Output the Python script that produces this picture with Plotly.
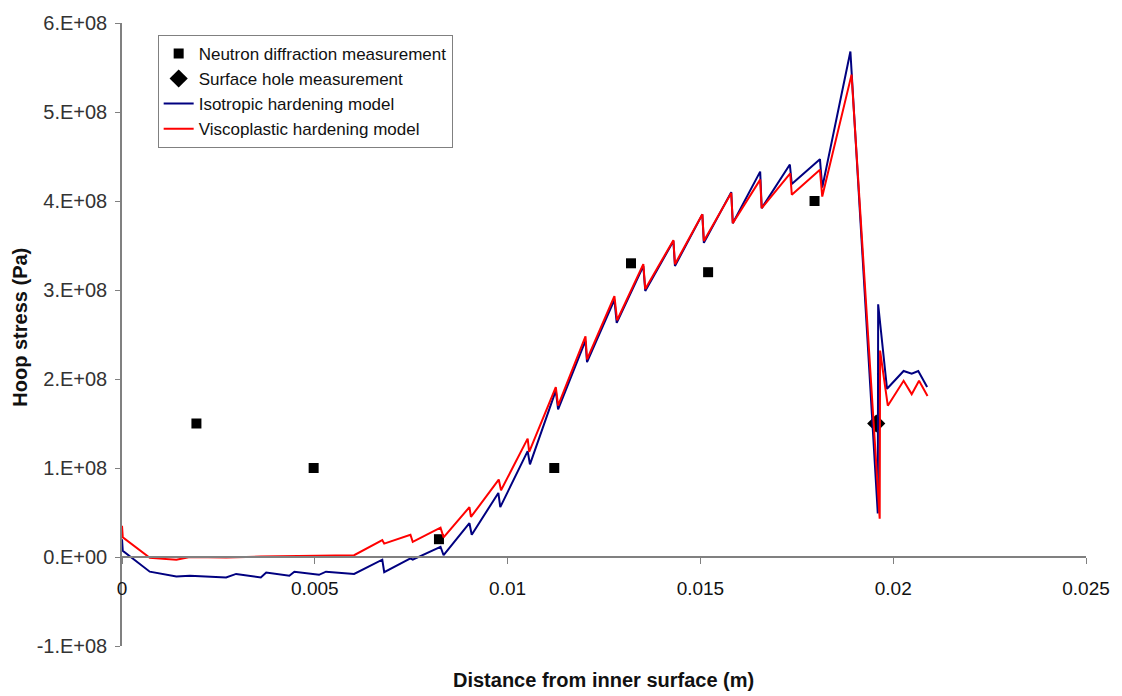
import plotly.graph_objects as go

# Neutron diffraction measurement
neutron_x = [0.00193, 0.00497, 0.00822, 0.01121, 0.0132, 0.0152, 0.01796]
neutron_y = [1.5e8, 1.0e8, 0.2e8, 1.0e8, 3.3e8, 3.2e8, 4.0e8]

# Surface hole measurement
hole_x = [0.01956]
hole_y = [1.5e8]

# Isotropic hardening model
iso_x = [0, 0.00002, 0.00072, 0.00141, 0.00176, 0.0027, 0.00296, 0.0036, 0.00374,
         0.00434, 0.00447, 0.00511, 0.00529, 0.00602, 0.00675, 0.0068, 0.00748,
         0.00754, 0.00826, 0.00834, 0.00901, 0.00907, 0.00976, 0.00981, 0.01052,
         0.01058, 0.01125, 0.01131, 0.01202, 0.01206, 0.01277, 0.01283, 0.01352,
         0.01357, 0.0143, 0.01434, 0.01505, 0.01509, 0.0158, 0.01584, 0.01655,
         0.01659, 0.01732, 0.01737, 0.0181, 0.01816, 0.01889, 0.0196, 0.01961,
         0.01984, 0.02027, 0.02048, 0.02065, 0.02088]
iso_y = [0.2, 0.07, -0.165, -0.22, -0.21, -0.23, -0.19, -0.23, -0.175, -0.21, -0.165,
         -0.2, -0.165, -0.19, -0.03, -0.17, -0.015, -0.03, 0.115, 0.02, 0.38, 0.25,
         0.72, 0.56, 1.19, 1.04, 1.87, 1.66, 2.43, 2.19, 2.89, 2.63, 3.27, 2.99,
         3.55, 3.27, 3.85, 3.53, 4.1, 3.75, 4.33, 3.92, 4.41, 4.19, 4.47, 4.15,
         5.68, 0.49, 2.84, 1.89, 2.09, 2.06, 2.09, 1.91]

# Viscoplastic hardening model
visco_x = [0, 0.00002, 0.00072, 0.00141, 0.00176, 0.0027, 0.0036, 0.00447, 0.00529,
           0.00602, 0.00675, 0.0068, 0.00748, 0.00754, 0.00826, 0.00834, 0.00901,
           0.00905, 0.00977, 0.00983, 0.01052, 0.01056, 0.01125, 0.01131, 0.01202,
           0.01206, 0.01277, 0.01284, 0.01352, 0.01357, 0.0143, 0.01434, 0.01505,
           0.01509, 0.0158, 0.01584, 0.01655, 0.01659, 0.01733, 0.01737, 0.0181,
           0.01816, 0.01892, 0.01965, 0.01966, 0.01986, 0.02027, 0.02048, 0.02067,
           0.02089]
visco_y = [0.35, 0.22, -0.01, -0.03, 0.0, -0.005, 0.005, 0.01, 0.015, 0.02, 0.19, 0.15,
           0.25, 0.17, 0.33, 0.22, 0.56, 0.45, 0.87, 0.75, 1.33, 1.18, 1.91, 1.70,
           2.48, 2.22, 2.93, 2.66, 3.29, 3.01, 3.56, 3.29, 3.85, 3.55, 4.09, 3.75,
           4.24, 3.92, 4.31, 4.07, 4.35, 4.05, 5.42, 0.43, 2.32, 1.70, 1.98, 1.83,
           1.98, 1.81]

x_ticks = [0, 0.005, 0.01, 0.015, 0.02, 0.025]
x_tick_labels = ["0", "0.005", "0.01", "0.015", "0.02", "0.025"]
y_ticks = [-1e8, 0, 1e8, 2e8, 3e8, 4e8, 5e8, 6e8]
y_tick_labels = ["-1.E+08", "0.E+00", "1.E+08", "2.E+08", "3.E+08", "4.E+08", "5.E+08", "6.E+08"]

fig = go.Figure()
fig.add_trace(go.Scatter(x=neutron_x, y=neutron_y, mode="markers",
                         name="Neutron diffraction measurement",
                         marker=dict(symbol="square", size=10, color="black")))
fig.add_trace(go.Scatter(x=hole_x, y=hole_y, mode="markers",
                         name="Surface hole measurement",
                         marker=dict(symbol="diamond", size=14, color="black")))
fig.add_trace(go.Scatter(x=iso_x, y=[v * 1e8 for v in iso_y], mode="lines",
                         name="Isotropic hardening model",
                         line=dict(color="#000080", width=2)))
fig.add_trace(go.Scatter(x=visco_x, y=[v * 1e8 for v in visco_y], mode="lines",
                         name="Viscoplastic hardening model",
                         line=dict(color="#ff0000", width=2)))

fig.update_layout(
    width=1122, height=696,
    margin=dict(l=122, r=30, t=21, b=50),
    paper_bgcolor="white", plot_bgcolor="white",
    font=dict(family="Liberation Sans, Arial", color="#222"),
    showlegend=True,
    legend=dict(x=0.037, y=0.981, xanchor="left", yanchor="top",
                bordercolor="#808080", borderwidth=1, bgcolor="white",
                font=dict(size=17, color="#111"), tracegroupgap=0),
    xaxis=dict(range=[0, 0.025], anchor="free", position=1/7,
               tickvals=x_ticks, ticktext=x_tick_labels,
               ticks="outside", ticklen=6, tickcolor="#808080",
               showline=True, linecolor="#808080", linewidth=1.5,
               showgrid=False, zeroline=False, ticklabelstandoff=8,
               tickfont=dict(family="Liberation Sans Narrow, Arial Narrow, Liberation Sans",
                             size=19, color="#111")),
    yaxis=dict(range=[-1e8, 6e8], tickvals=y_ticks, ticktext=y_tick_labels,
               ticks="outside", ticklen=5, tickcolor="#808080",
               showline=True, linecolor="#808080", linewidth=1.5,
               showgrid=False, zeroline=False, ticklabelstandoff=4,
               tickfont=dict(size=20, color="#333")),
    annotations=[
        dict(text="<b>Distance from inner surface (m)</b>", xref="paper", yref="paper",
             x=(606 - 122) / 970, y=-(680 - 646) / 625, xanchor="center", yanchor="middle",
             showarrow=False, font=dict(size=20, color="#111")),
        dict(text="<b>Hoop stress (Pa)</b>", xref="paper", yref="paper",
             x=-(122 - 19) / 970, y=(646 - 326) / 625, xanchor="center", yanchor="middle",
             textangle=-90, showarrow=False, font=dict(size=20, color="#111")),
    ],
)

fig.write_html("out.html")
